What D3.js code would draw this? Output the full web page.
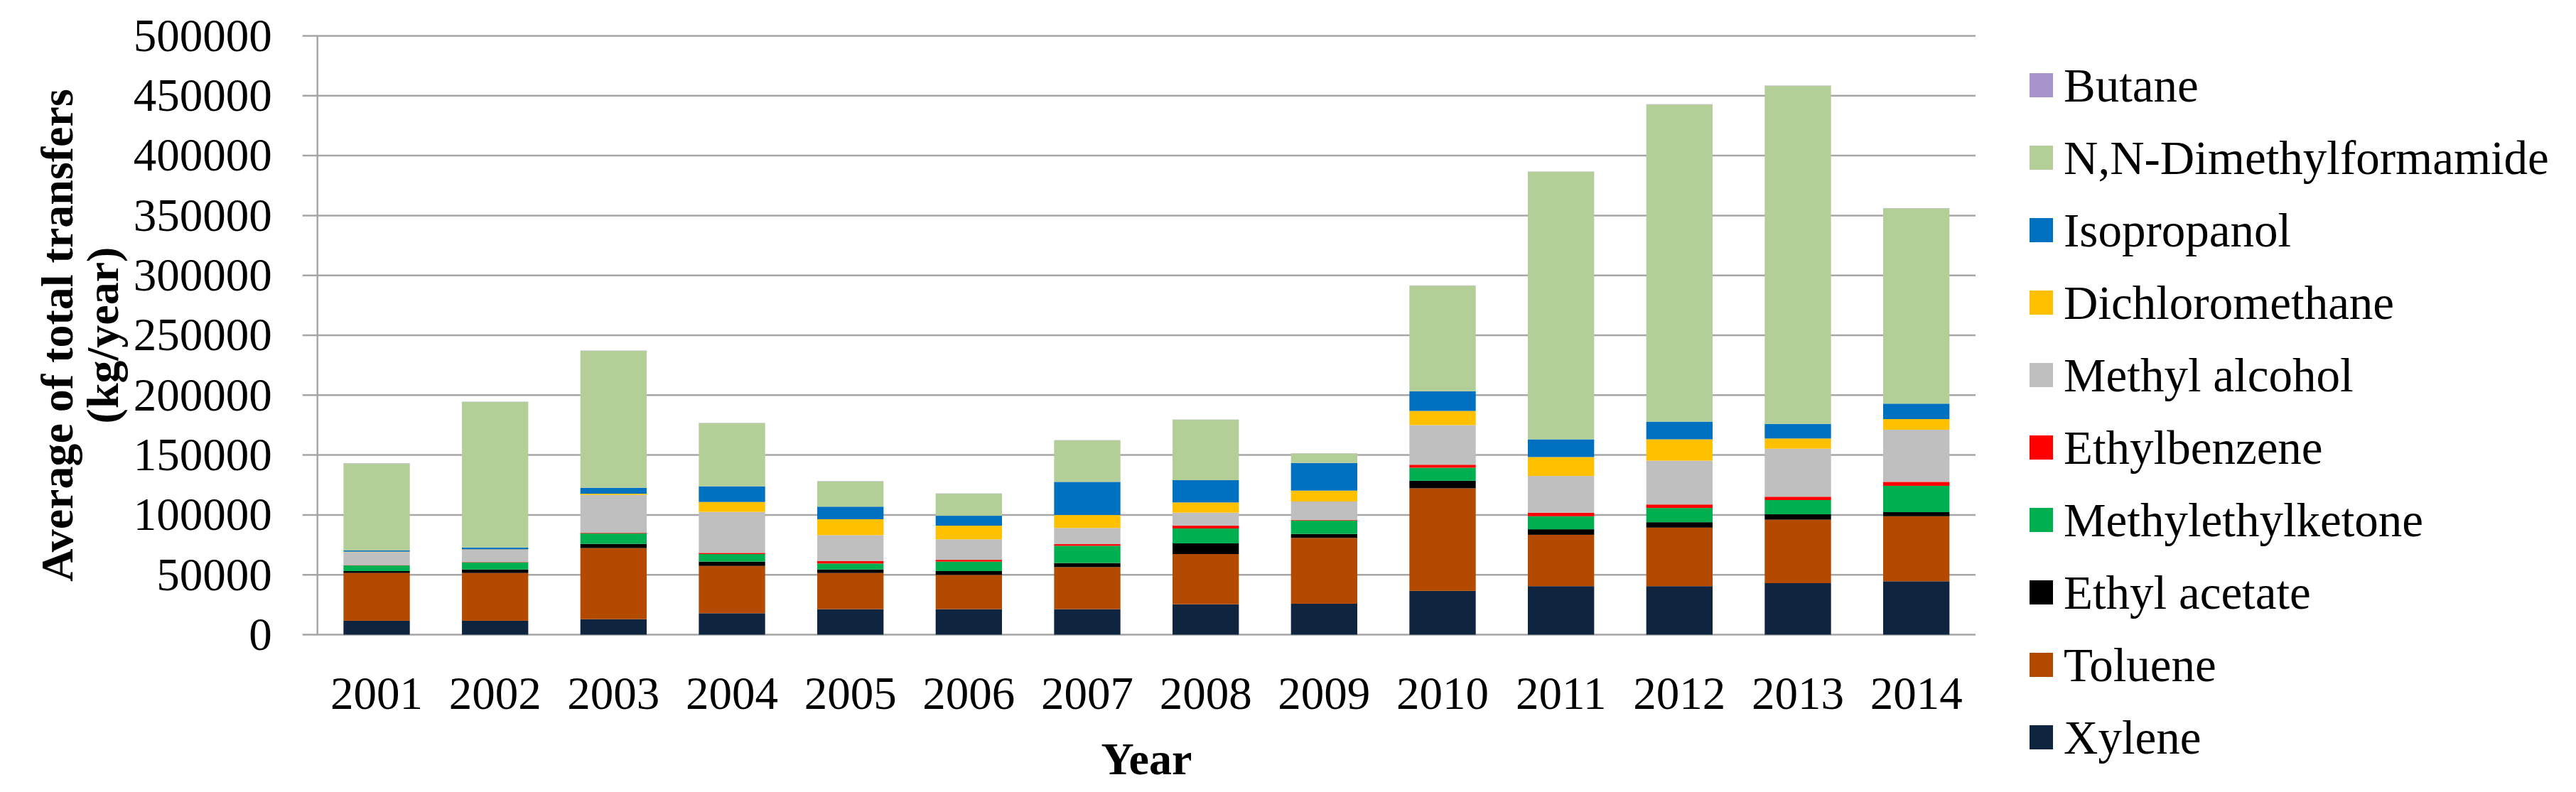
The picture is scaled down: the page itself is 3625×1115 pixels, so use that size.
<!DOCTYPE html>
<html>
<head>
<meta charset="utf-8">
<script src="https://cdn.jsdelivr.net/npm/d3@7"></script>
<style>
  html, body { margin: 0; padding: 0; background: #fff; }
  svg { display: block; }
  text { font-family: "Liberation Serif", "Times New Roman", serif; fill: #000; }
</style>
</head>
<body>
<svg id="chart" width="3625" height="1115"></svg>
<script>
// ---- data (kg/year) ----
const years = ["2001","2002","2003","2004","2005","2006","2007","2008","2009","2010","2011","2012","2013","2014"];
const xylene        = [11600, 11600, 12900, 17900, 21300, 21300, 21300, 25400, 25800, 36600, 40500, 40500, 43000, 44600];
const toluene       = [39900, 39900, 59400, 39500, 30200, 28600, 35100, 41900, 55000, 85600, 42900, 48900, 53000, 54300];
const ethylAcetate  = [1600, 3000, 3500, 3600, 3000, 3200, 3400, 8900, 3300, 6300, 4600, 4500, 4500, 3400];
const mek           = [4700, 5900, 8700, 6300, 4900, 7900, 14400, 12500, 11300, 10900, 10900, 11900, 11900, 22000];
const ethylbenzene  = [300, 300, 500, 1000, 2000, 1500, 1400, 2300, 500, 2500, 2900, 2900, 2800, 3300];
const methylAlcohol = [10900, 10200, 31700, 34200, 21700, 17100, 13500, 10900, 15300, 33100, 30700, 36600, 40100, 43500];
const dcm           = [300, 300, 1000, 8300, 13300, 11400, 10800, 8500, 9100, 11800, 15800, 17800, 8500, 8900];
const ipa           = [1000, 1600, 5000, 13100, 10500, 8300, 27700, 18600, 23100, 16400, 14800, 14800, 12200, 12900];
const dmf           = [72700, 121500, 114300, 52700, 21100, 18400, 34600, 50400, 7900, 88200, 223400, 264800, 282300, 163100];
const butane        = [200, 200, 200, 200, 200, 200, 200, 200, 200, 200, 200, 200, 200, 200];
const yTicks = [0, 50000, 100000, 150000, 200000, 250000, 300000, 350000, 400000, 450000, 500000];

// series in stacking order (bottom -> top)
const seriesNames  = ["Xylene","Toluene","Ethyl acetate","Methylethylketone","Ethylbenzene","Methyl alcohol","Dichloromethane","Isopropanol","N,N-Dimethylformamide","Butane"];
const seriesValues = [xylene, toluene, ethylAcetate, mek, ethylbenzene, methylAlcohol, dcm, ipa, dmf, butane];
const seriesColors = ["#0f243e","#b34a00","#000000","#00b050","#ff0000","#bfbfbf","#ffc000","#0070c0","#b3ce97","#a894cc"];

// ---- layout ----
const svg = d3.select("#chart");
const plot = { left: 446.7, right: 2780, top: 50.5, bottom: 893.5 };
const FS = 65;

const rows = years.map((yr, i) => {
  const r = { year: yr };
  seriesNames.forEach((s, k) => r[s] = seriesValues[k][i]);
  return r;
});
const stacked = d3.stack().keys(seriesNames)(rows);

const x = d3.scaleBand().domain(years).range([plot.left, plot.right]).paddingInner(0.44).paddingOuter(0.22);
const y = d3.scaleLinear().domain([0, 500000]).range([plot.bottom, plot.top]);
const color = d3.scaleOrdinal().domain(seriesNames).range(seriesColors);

// gridlines
svg.append("g").selectAll("line").data(yTicks).join("line")
  .attr("x1", plot.left - 21).attr("x2", plot.right)
  .attr("y1", d => y(d)).attr("y2", d => y(d))
  .attr("stroke", "#a6a6a6").attr("stroke-width", 2.5);

// vertical axis line
svg.append("line")
  .attr("x1", plot.left).attr("x2", plot.left)
  .attr("y1", plot.top).attr("y2", plot.bottom)
  .attr("stroke", "#a6a6a6").attr("stroke-width", 2.5);

// bars
svg.append("g").selectAll("g").data(stacked).join("g")
  .attr("fill", d => color(d.key))
  .selectAll("rect").data(d => d).join("rect")
  .attr("x", d => x(d.data.year))
  .attr("width", x.bandwidth())
  .attr("y", d => y(d[1]))
  .attr("height", d => y(d[0]) - y(d[1]));

// y axis labels
const yAxis = svg.append("g").attr("transform", `translate(${plot.left},0)`)
  .call(d3.axisLeft(y).tickValues(yTicks).tickFormat(d3.format("d")).tickSize(21).tickPadding(43));
yAxis.select(".domain").remove();
yAxis.selectAll(".tick line").remove();
yAxis.selectAll("text").style("font-size", FS + "px").style("font-family", "Liberation Serif");

// x axis labels
const xAxis = svg.append("g").attr("transform", `translate(0,${plot.bottom})`)
  .call(d3.axisBottom(x).tickSize(0).tickPadding(58));
xAxis.select(".domain").remove();
xAxis.selectAll("text").style("font-size", FS + "px").style("font-family", "Liberation Serif");

// axis titles
svg.append("text")
  .attr("x", (plot.left + plot.right) / 2).attr("y", 1090)
  .attr("text-anchor", "middle").style("font-size", "64px").style("font-weight", "bold")
  .text("Year");

const yt = svg.append("text")
  .attr("transform", `translate(0,${(plot.top + plot.bottom) / 2}) rotate(-90)`)
  .attr("text-anchor", "middle").style("font-size", "64px").style("font-weight", "bold");
yt.append("tspan").attr("x", 0).attr("y", 102).text("Average of total transfers");
yt.append("tspan").attr("x", 0).attr("y", 166).text("(kg/year)");

// legend (top -> bottom: reverse stacking order)
const legendItems = seriesNames.slice().reverse();
const lg = svg.append("g");
const li = lg.selectAll("g").data(legendItems).join("g")
  .attr("transform", (d, i) => `translate(2856,${120 + i * 102})`);
li.append("rect").attr("x", 0).attr("y", -17).attr("width", 33).attr("height", 34).attr("fill", d => color(d));
li.append("text").attr("x", 48).attr("y", 0).attr("dy", "0.34em")
  .style("font-size", "67px").style("font-family", "Liberation Serif").text(d => d);
</script>
</body>
</html>
